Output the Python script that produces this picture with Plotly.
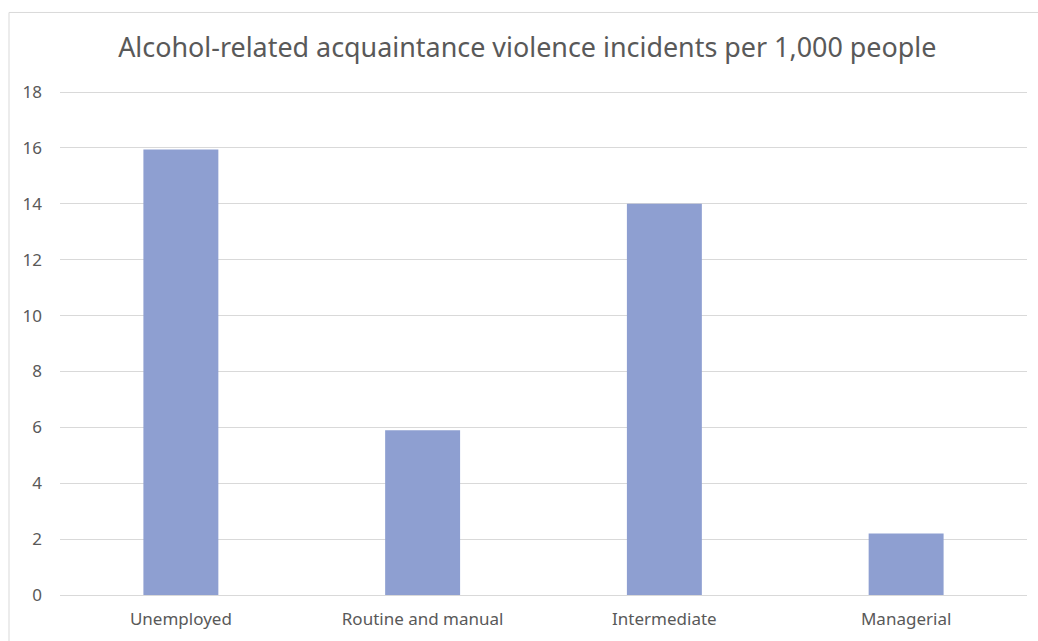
import plotly.graph_objects as go

categories = ["Unemployed", "Routine and manual", "Intermediate", "Managerial"]
values = [15.95, 5.9, 14.0, 2.2]
y_ticks = [0, 2, 4, 6, 8, 10, 12, 14, 16, 18]

W, H = 1038, 641
L, R, T, B = 60, 11, 91, 43

fig = go.Figure(go.Bar(x=categories, y=values, marker=dict(color="#8E9FD1", line=dict(width=0)), width=0.31))

pw = W - L - R
ph = H - T - B
def px_x(x):
    return (x - L) / pw
def px_y(y):
    return (H - B - y) / ph

fig.update_layout(
    width=W, height=H,
    margin=dict(l=L, r=R, t=T, b=B),
    paper_bgcolor="white", plot_bgcolor="white",
    font=dict(family="Noto Sans, sans-serif", color="#595959"),
    title=dict(text="Alcohol-related acquaintance violence incidents per 1,000 people",
               x=0.508, xanchor="center", y=1 - 48 / H, yanchor="middle",
               font=dict(size=26.9, color="#595959")),
    showlegend=False,
    bargap=0.69,
    shapes=[dict(type="rect", xref="paper", yref="paper",
                 x0=px_x(9), x1=px_x(1060), y0=px_y(700), y1=px_y(12),
                 line=dict(color="#D9D9D9", width=1), fillcolor="rgba(0,0,0,0)", layer="below")],
)
fig.update_yaxes(range=[0, 18.04], tickvals=y_ticks, showgrid=True, gridcolor="#D9D9D9", gridwidth=1,
                 zeroline=False, showline=False, tickfont=dict(size=17, color="#595959"),
                 ticklabelstandoff=17)
fig.update_xaxes(showline=True, linecolor="#D9D9D9", linewidth=1, showgrid=False,
                 tickfont=dict(size=17, color="#595959"), ticklabelstandoff=9)

fig.write_html("out.html", config={"displayModeBar": False},
               post_script="document.body.style.margin='0';document.body.style.overflow='hidden';")
